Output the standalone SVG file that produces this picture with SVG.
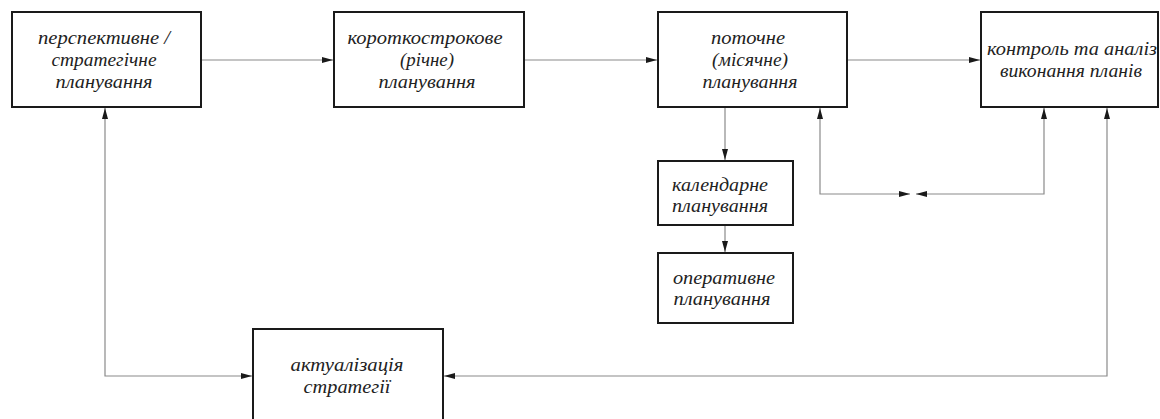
<svg xmlns="http://www.w3.org/2000/svg" width="1160" height="419" viewBox="0 0 1160 419">
<style>
.box{fill:#fff;stroke:#1a1a1a;stroke-width:2}
.t{font-family:"Liberation Serif","DejaVu Serif",serif;font-style:italic;font-size:19px;fill:#222;text-anchor:middle}
.c{fill:none;stroke:#8a8a8a;stroke-width:1.2}
</style>
<defs>
<marker id="ah" markerUnits="userSpaceOnUse" markerWidth="11" markerHeight="7" refX="11" refY="3.5" orient="auto-start-reverse">
<path d="M0,0.5 L11,3.5 L0,6.5 z" fill="#1a1a1a"/>
</marker>
</defs>
<rect width="1160" height="419" fill="#fff"/>
<g id="connectors">
<line class="c" x1="201" y1="60" x2="333" y2="60" marker-end="url(#ah)"/>
<line class="c" x1="524" y1="60" x2="657" y2="60" marker-end="url(#ah)"/>
<line class="c" x1="847" y1="60" x2="980" y2="60" marker-end="url(#ah)"/>
<line class="c" x1="725" y1="108" x2="725" y2="160" marker-end="url(#ah)"/>
<line class="c" x1="725" y1="226" x2="725" y2="252" marker-end="url(#ah)"/>
<path class="c" d="M820,108 V194 H910" marker-start="url(#ah)" marker-end="url(#ah)"/>
<path class="c" d="M1044,108 V194 H916" marker-start="url(#ah)" marker-end="url(#ah)"/>
<path class="c" d="M105,108 V376 H252" marker-start="url(#ah)" marker-end="url(#ah)"/>
<path class="c" d="M1107,108 V376 H444" marker-start="url(#ah)" marker-end="url(#ah)"/>
</g>
<g id="n1">
<rect class="box" x="12" y="12" width="189" height="95"/>
<text class="t" x="104" y="44" textLength="132" lengthAdjust="spacingAndGlyphs">перспективне /</text>
<text class="t" x="104" y="66" textLength="105" lengthAdjust="spacingAndGlyphs">стратегічне</text>
<text class="t" x="104" y="88" textLength="97" lengthAdjust="spacingAndGlyphs">планування</text>
</g>
<g id="n2">
<rect class="box" x="334" y="12" width="190" height="95"/>
<text class="t" x="425" y="44" textLength="155" lengthAdjust="spacingAndGlyphs">короткострокове</text>
<text class="t" x="427" y="66" textLength="54" lengthAdjust="spacingAndGlyphs">(річне)</text>
<text class="t" x="427" y="88" textLength="97" lengthAdjust="spacingAndGlyphs">планування</text>
</g>
<g id="n3">
<rect class="box" x="658" y="12" width="189" height="95"/>
<text class="t" x="748" y="44" textLength="74" lengthAdjust="spacingAndGlyphs">поточне</text>
<text class="t" x="750" y="66" textLength="76" lengthAdjust="spacingAndGlyphs">(місячне)</text>
<text class="t" x="750" y="88" textLength="95" lengthAdjust="spacingAndGlyphs">планування</text>
</g>
<g id="n4">
<rect class="box" x="981" y="12" width="177" height="95"/>
<text class="t" x="1072" y="55" textLength="170" lengthAdjust="spacingAndGlyphs">контроль та аналіз</text>
<text class="t" x="1071" y="77" textLength="142" lengthAdjust="spacingAndGlyphs">виконання планів</text>
</g>
<g id="n5">
<rect class="box" x="658" y="161" width="135" height="64"/>
<text class="t" x="720" y="191" textLength="96" lengthAdjust="spacingAndGlyphs">календарне</text>
<text class="t" x="720" y="212" textLength="96" lengthAdjust="spacingAndGlyphs">планування</text>
</g>
<g id="n6">
<rect class="box" x="658" y="253" width="135" height="70"/>
<text class="t" x="724" y="284" textLength="102" lengthAdjust="spacingAndGlyphs">оперативне</text>
<text class="t" x="722" y="305" textLength="97" lengthAdjust="spacingAndGlyphs">планування</text>
</g>
<g id="n7">
<rect class="box" x="253" y="329" width="190" height="100"/>
<text class="t" x="347" y="371" textLength="113" lengthAdjust="spacingAndGlyphs">актуалізація</text>
<text class="t" x="347" y="393" textLength="87" lengthAdjust="spacingAndGlyphs">стратегії</text>
</g>
</svg>
